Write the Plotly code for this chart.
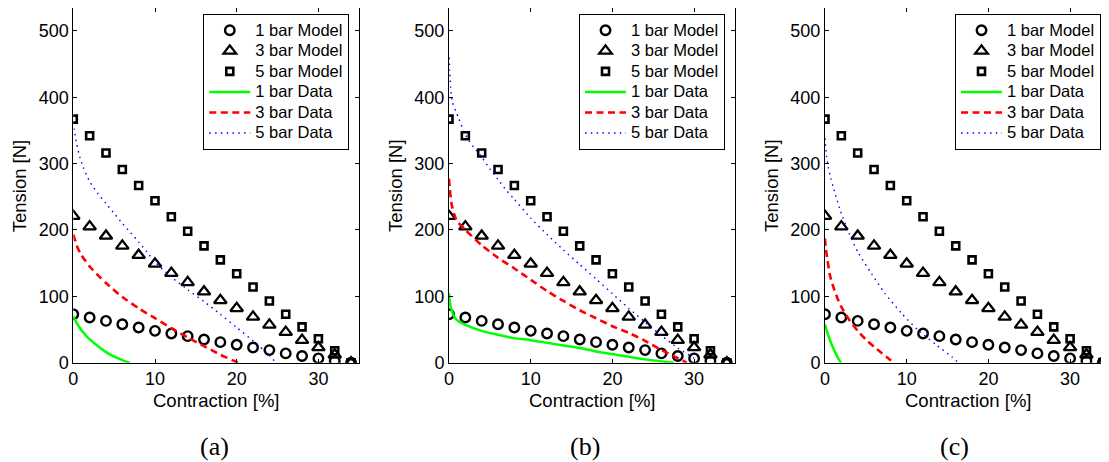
import plotly.graph_objects as go

# ---------------- data ----------------
model_x = [0, 2, 4, 6, 8, 10, 12, 14, 16, 18, 20, 22, 24, 26, 28, 30, 32, 34]
model_1bar = [73, 68, 63, 58, 53, 48, 44, 40, 35, 31, 27, 23, 19, 14, 10, 6.5, 2.5, 0]
model_3bar = [221, 205, 191, 176, 162, 149, 135, 121, 107, 94, 82, 69, 57, 46, 34, 23, 12, 0]
model_5bar = [367, 342, 316, 291, 267, 244, 220, 198, 176, 155, 134, 114, 93, 73, 54, 36, 18, 0]

# panel (a)
a_1bar_x = [0, 0.5, 1, 2, 3, 4, 5, 6, 6.9]
a_1bar_y = [70, 58, 49, 35, 25, 16, 9, 4, 0]
a_3bar_x = [0, 0.5, 1, 2, 3, 4, 6, 8, 10, 12, 14, 16, 18, 20, 20.2]
a_3bar_y = [193, 174, 162, 145, 132, 120, 99, 82, 67, 52, 38, 25, 12, 1, 0]
a_5bar_x = [0, 0.2, 0.4, 0.8, 1.2, 2, 3, 4, 5, 6, 7, 8, 9, 10, 12, 14, 16, 18, 20, 22, 24, 24.8]
a_5bar_y = [362, 345, 330, 310, 295, 273, 255, 240, 225, 210, 196, 182, 167, 152, 129, 110, 92, 73, 53, 33, 11, 0]

# panel (b)
b_1bar_x = [0, 0.1, 0.3, 0.6, 1, 2, 4, 6, 8, 10, 12, 14, 16, 18, 20, 22, 24, 26, 27.5]
b_1bar_y = [105, 92, 80, 70, 64, 57, 48, 42, 37, 34, 30, 26, 22, 17, 13, 9, 5, 2, 0]
b_3bar_x = [0, 0.1, 0.3, 0.6, 1, 2, 4, 6, 8, 10, 12, 14, 16, 18, 20, 22, 24, 26, 28, 29.1]
b_3bar_y = [277, 262, 240, 225, 213, 200, 177, 158, 142, 125, 108, 93, 79, 67, 55, 45, 33, 19, 7, 0]
b_5bar_x = [0, 0.1, 0.2, 0.4, 0.8, 1.2, 2, 3, 4, 5, 6, 7, 8, 10, 12, 14, 16, 18, 20, 22, 24, 26, 28, 30, 31]
b_5bar_y = [460, 440, 415, 393, 380, 368, 343, 325, 310, 292, 276, 260, 246, 218, 193, 170, 148, 126, 104, 82, 61, 41, 22, 7, 0]

# panel (c)
c_1bar_x = [0, 0.25, 0.5, 0.8, 1.2, 1.6, 1.95]
c_1bar_y = [58, 47, 38, 28, 17, 7, 0]
c_3bar_x = [0, 0.1, 0.3, 0.6, 1, 1.5, 2, 3, 4, 5, 6, 7, 8, 8.3]
c_3bar_y = [187, 172, 155, 132, 115, 98, 84, 64, 48, 35, 24, 14, 4, 0]
c_5bar_x = [0, 0.2, 0.4, 0.7, 1, 1.8, 2.9, 4.1, 5.7, 7.3, 9.4, 11.4, 13.5, 15.5, 16.3]
c_5bar_y = [338, 310, 295, 278, 265, 232, 196, 165, 134, 105, 74, 49, 28, 9, 0]

panel_labels = ["(a)", "(b)", "(c)"]
x_ticks = [0, 10, 20, 30]
y_ticks = [0, 100, 200, 300, 400, 500]
x_title = "Contraction [%]"
y_title = "Tension [N]"

# ---------------- layout geometry ----------------
WIN_W, WIN_H = 1109, 462
OFF = 8                          # page body margin of the html page
W, H = WIN_W - OFF, WIN_H - OFF  # figure size so that it fills the window
PXU = 8.17                       # px per % contraction
x0_px = [73.3, 449.0, 825.0]     # window pixel of x=0 per panel
label_px = [214, 584.5, 954]
y_top_px, y_bot_px = 8.3, 362.7
FONT = "Liberation Sans, Arial, sans-serif"


def fx(px):
    return (px - OFF) / W


def fy(py):
    return 1 - (py - OFF) / H


data_sets = [
    (a_1bar_x, a_1bar_y, a_3bar_x, a_3bar_y, a_5bar_x, a_5bar_y),
    (b_1bar_x, b_1bar_y, b_3bar_x, b_3bar_y, b_5bar_x, b_5bar_y),
    (c_1bar_x, c_1bar_y, c_3bar_x, c_3bar_y, c_5bar_x, c_5bar_y),
]

fig = go.Figure()
annotations = []
layout = {}

ydom = [fy(y_bot_px), min(1.0, fy(y_top_px))]


def span(t):
    return '<span style="font-size:16.5px">' + t + '</span>'


for i in range(3):
    sfx = "" if i == 0 else str(i + 1)
    xa, ya = "x" + sfx, "y" + sfx
    leg = "legend" + sfx
    right_px = min(x0_px[i] + 35 * PXU, WIN_W - 0.5)
    xmax = (right_px - x0_px[i]) / PXU

    fig.add_trace(go.Scatter(x=model_x, y=model_1bar, mode="markers", name=span("1 bar Model"),
                             marker=dict(symbol="circle-open", size=9.5, color="black", line=dict(width=2.4, color="black")),
                             xaxis=xa, yaxis=ya, legend=leg))
    fig.add_trace(go.Scatter(x=model_x, y=model_3bar, mode="markers", name=span("3 bar Model"),
                             marker=dict(symbol="triangle-up-open", size=11, color="black", line=dict(width=2.3, color="black")),
                             xaxis=xa, yaxis=ya, legend=leg))
    fig.add_trace(go.Scatter(x=model_x, y=model_5bar, mode="markers", name=span("5 bar Model"),
                             marker=dict(symbol="square-open", size=7, color="black", line=dict(width=2.6, color="black")),
                             xaxis=xa, yaxis=ya, legend=leg))
    gx, gy, rx, ry, bx, by = data_sets[i]
    fig.add_trace(go.Scatter(x=gx, y=gy, mode="lines", name=span("1 bar Data"),
                             line=dict(color="#00ff00", width=2.5, shape="spline", smoothing=0.6),
                             xaxis=xa, yaxis=ya, legend=leg))
    fig.add_trace(go.Scatter(x=rx, y=ry, mode="lines", name=span("3 bar Data"),
                             line=dict(color="#ff0000", width=2.6, dash="7px,4.5px", shape="spline", smoothing=0.6),
                             xaxis=xa, yaxis=ya, legend=leg))
    fig.add_trace(go.Scatter(x=bx, y=by, mode="lines", name=span("5 bar Data"),
                             line=dict(color="#0000ff", width=1.4, dash="1.5px,4.3px", shape="spline", smoothing=0.6),
                             xaxis=xa, yaxis=ya, legend=leg))

    common = dict(showgrid=False, zeroline=False, showline=True, linecolor="black", linewidth=1,
                  mirror="ticks", ticks="inside", ticklen=4, tickwidth=1, tickcolor="black",
                  automargin=False,
                  tickfont=dict(family=FONT, size=18, color="black"))
    layout["xaxis" + sfx] = dict(domain=[fx(x0_px[i]), min(1.0, fx(right_px))], range=[0, xmax],
                                 tickvals=x_ticks, anchor=ya, **common)
    layout["yaxis" + sfx] = dict(domain=ydom, range=[0, 534], tickvals=y_ticks, anchor=xa, **common)
    layout[leg] = dict(x=fx(x0_px[i] + 130), y=fy(14), xanchor="left", yanchor="top",
                       bgcolor="white", bordercolor="black", borderwidth=1,
                       font=dict(family=FONT, size=13.5, color="black"),
                       itemwidth=41, tracegroupgap=0, traceorder="normal")

    xc = fx(x0_px[i] + 35 * PXU / 2)
    annotations.append(dict(text=x_title, x=xc, y=fy(400), xref="paper", yref="paper",
                            showarrow=False, xanchor="center", yanchor="middle",
                            font=dict(family=FONT, size=18.5, color="black")))
    annotations.append(dict(text=y_title, x=fx(x0_px[i] - 53.5), y=fy(185.5), xref="paper", yref="paper",
                            showarrow=False, xanchor="center", yanchor="middle", textangle=-90,
                            font=dict(family=FONT, size=18.5, color="black")))
    annotations.append(dict(text=panel_labels[i], x=fx(label_px[i]), y=fy(446), xref="paper", yref="paper",
                            showarrow=False, xanchor="center", yanchor="middle",
                            font=dict(family="Liberation Serif, serif", size=26, color="black")))

fig.update_layout(width=W, height=H, margin=dict(l=0, r=0, t=0, b=0, autoexpand=False),
                  paper_bgcolor="white", plot_bgcolor="white",
                  annotations=annotations, **layout)

fig.write_html("out.html")
